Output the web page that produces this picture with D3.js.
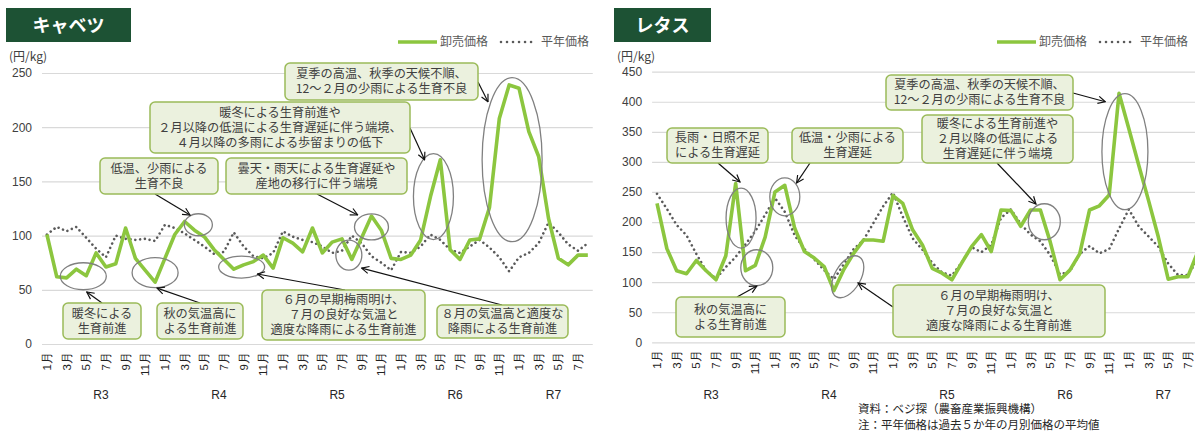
<!DOCTYPE html>
<html><head><meta charset="utf-8">
<script src="https://cdn.jsdelivr.net/npm/d3@7"></script>
<style>
body{margin:0;background:#fff;}
svg{display:block;font-family:"Noto Sans CJK JP","Noto Sans",sans-serif;}
</style></head><body>
<svg id="c" width="1195" height="432"></svg>
<script>
// ---------------- data ----------------
const years = ["R3","R4","R5","R6","R7"];
const monthNames = ["1月","2月","3月","4月","5月","6月","7月","8月","9月","10月","11月","12月"];
const lastYearMonths = 8; // R7 runs to 8月

const cabbageWholesale = [
  101,62,61,69,63,84,71,74,107,79,68,57,
  79,101,113,105,99,87,78,69,73,76,82,70,
  98,93,85,107,84,94,97,78,98,118,105,79,
  78,82,96,136,170,87,78,96,97,126,208,239,
  236,196,173,116,79,73,82,82
];
const cabbageNormal = [
  101,108,104,108,98,88,80,100,97,96,97,95,
  110,107,102,96,90,83,85,103,90,81,79,84,
  104,99,96,94,90,84,86,100,93,81,75,68,
  85,84,90,101,96,87,84,90,96,89,80,67,
  80,84,93,112,103,92,86,93
];
const lettuceWholesale = [
  231,156,119,114,136,119,104,144,264,119,128,175,
  250,261,190,151,140,126,86,121,148,170,170,168,
  244,231,187,162,123,115,104,132,159,179,151,220,
  219,193,220,220,167,104,120,147,220,227,245,414,
  355,295,236,175,105,109,109,150
];
const lettuceNormal = [
  247,222,195,178,147,119,106,125,142,163,185,212,
  240,217,178,155,138,120,105,130,155,170,198,226,
  249,209,173,154,132,116,111,133,158,150,162,207,
  221,197,179,168,145,113,118,147,160,148,155,189,
  221,193,176,159,131,112,112,137
];
const cabbageTicks = [0,50,100,150,200,250];
const lettuceTicks = [0,50,100,150,200,250,300,350,400,450];
const seriesNames = ["卸売価格","平年価格"];
const unitLabel = "(円/kg)";

// period list built from the label arrays
const periods = [];
years.forEach((yr, yi) => {
  const n = yi === years.length - 1 ? lastYearMonths : 12;
  for (let m = 0; m < n; m++) periods.push({year: yr, month: monthNames[m], m: m + 1, idx: periods.length});
});

// ---------------- drawing ----------------
const svg = d3.select("#c");
const GREEN = "#8cc63f";
const DOT = "#5a5a5a";
const FILL_BOX = "#ebf1de";
const STROKE_BOX = "#9bbb59";

const defs = svg.append("defs");
defs.append("marker").attr("id","arr").attr("viewBox","0 0 10 10")
  .attr("refX",9).attr("refY",5).attr("markerWidth",9).attr("markerHeight",9)
  .attr("orient","auto-start-reverse").attr("markerUnits","userSpaceOnUse")
  .append("path").attr("d","M1,1 L9,5 L1,9").attr("fill","none").attr("stroke","#111").attr("stroke-width",1.3);

function panel(cfg) {
  const g = svg.append("g");
  const x = d3.scaleBand().domain(periods.map(p => p.idx)).range([cfg.left, cfg.left + cfg.step * periods.length]).padding(0);
  const y = d3.scaleLinear().domain([0, cfg.ticks[cfg.ticks.length - 1]]).range([cfg.bottom, cfg.top]);
  const cx = i => x(i) + x.bandwidth() / 2;
  // continuous position along the month axis (for annotation placement between months)
  const xc = d3.scaleLinear().domain([0, periods.length]).range(x.range());
  const P = (i, v) => [xc(i + 0.5), y(v)];

  // title box
  g.append("rect").attr("x", cfg.titleBox[0]).attr("y", 8).attr("width", cfg.titleBox[1]).attr("height", 34)
    .attr("fill", "#1d5234");
  g.append("text").attr("x", cfg.titleBox[0] + cfg.titleBox[1] / 2).attr("y", 26).attr("dy","0.35em")
    .attr("text-anchor","middle").attr("fill","#fff").attr("font-size",18).attr("font-weight",700)
    .text(cfg.title);

  // legend
  const lx = cfg.legendX;
  g.append("line").attr("x1", lx).attr("x2", lx + 39).attr("y1", 42).attr("y2", 42)
    .attr("stroke", GREEN).attr("stroke-width", 3.5);
  g.append("text").attr("x", lx + 42).attr("y", 42).attr("dy","0.35em").attr("font-size",12).attr("fill","#595959").text(seriesNames[0]);
  g.append("line").attr("x1", lx + 103).attr("x2", lx + 138).attr("y1", 42).attr("y2", 42)
    .attr("stroke", DOT).attr("stroke-width", 2.6).attr("stroke-linecap","round").attr("stroke-dasharray","0.01 6");
  g.append("text").attr("x", lx + 143).attr("y", 42).attr("dy","0.35em").attr("font-size",12).attr("fill","#595959").text(seriesNames[1]);

  // unit
  g.append("text").attr("x", cfg.unitX).attr("y", 57).attr("dy","0.35em").attr("font-size",12).attr("fill","#404040").text(unitLabel);

  // y axis with gridlines
  const ya = g.append("g").attr("transform", `translate(${cfg.left},0)`)
    .call(d3.axisLeft(y).tickValues(cfg.ticks).tickSize(-(cfg.step * periods.length)).tickPadding(10));
  ya.select(".domain").remove();
  ya.selectAll(".tick line").attr("stroke", "#d9d9d9").attr("stroke-width", 1.2);
  ya.selectAll(".tick text").attr("fill","#404040").attr("font-size",12).attr("font-family","Liberation Sans, sans-serif");

  // x axis
  const xa = g.append("g").attr("transform", `translate(0,${cfg.bottom})`)
    .call(d3.axisBottom(x).tickValues(periods.filter(p => p.m % 2 === 1).map(p => p.idx))
      .tickFormat(i => periods[i].month).tickSize(0));
  xa.select(".domain").remove();
  xa.selectAll(".tick text").attr("transform","rotate(-90)").attr("x",-8).attr("y",0).attr("dy","0.35em")
    .style("text-anchor","end").attr("font-size",11.5).attr("fill","#222");

  // year labels
  years.forEach(yr => {
    const idxs = periods.filter(p => p.year === yr).map(p => p.idx);
    const mid = (cx(idxs[0]) + cx(idxs[idxs.length - 1])) / 2;
    g.append("text").attr("x", mid).attr("y", 395).attr("text-anchor","middle").attr("dy","0.35em")
      .attr("font-size",12).attr("fill","#262626").attr("font-family","Liberation Sans, sans-serif").text(yr);
  });

  // lines
  const line = d3.line().x((d, i) => cx(i)).y(d => y(d));
  g.append("path").datum(cfg.normal).attr("d", line).attr("fill","none")
    .attr("stroke", DOT).attr("stroke-width", 2.6).attr("stroke-linecap","round").attr("stroke-dasharray","0.01 4.8");
  g.append("path").datum(cfg.wholesale).attr("d", line).attr("fill","none")
    .attr("stroke", GREEN).attr("stroke-width", 3.6).attr("stroke-linejoin","round");

  // annotations
  cfg.notes.forEach(n => {
    const [ex, ey] = P(n.at[0], n.at[1]);
    g.append("ellipse").attr("cx", ex).attr("cy", ey).attr("rx", n.r[0]).attr("ry", n.r[1])
      .attr("transform", n.rot ? `rotate(${n.rot},${ex},${ey})` : null)
      .attr("fill","none").attr("stroke","#808080").attr("stroke-width",1.3);
    const [tx, ty] = P(n.tip[0], n.tip[1]);
    g.append("line").attr("x1", n.from[0]).attr("y1", n.from[1]).attr("x2", tx).attr("y2", ty)
      .attr("stroke","#111").attr("stroke-width",1.2).attr("marker-end","url(#arr)");
  });
  cfg.notes.forEach(n => {
    const [bx, by, bw, bh] = n.box;
    g.append("rect").attr("x", bx).attr("y", by).attr("width", bw).attr("height", bh).attr("rx", 5)
      .attr("fill", FILL_BOX).attr("stroke", STROKE_BOX).attr("stroke-width", 1.5);
    const lh = 15;
    const t = g.append("text").attr("text-anchor","middle").attr("font-size",12.2).attr("fill","#404040");
    n.text.forEach((s, k) => {
      t.append("tspan").attr("x", bx + bw / 2)
        .attr("y", by + bh / 2 + (k - (n.text.length - 1) / 2) * lh).attr("dy","0.36em").text(s);
    });
  });
}

panel({
  title: "キャベツ", titleBox: [6, 125], legendX: 398, unitX: 9,
  left: 42, step: 9.835, top: 73, bottom: 344,
  ticks: cabbageTicks, wholesale: cabbageWholesale, normal: cabbageNormal,
  notes: [
    {at:[3.7,62.5], r:[23,13.5], tip:[4.05,48], from:[102,303], box:[63,303,78,36], text:["暖冬による","生育前進"]},
    {at:[11,65.8], r:[23,15], tip:[11.2,51.5], from:[200,303], box:[157,303,86,36], text:["秋の気温高に","よる生育前進"]},
    {at:[15.4,110], r:[14,11], tip:[14.55,119], from:[155,194], box:[100,158,118,36], text:["低温、少雨による","生育不良"]},
    {at:[39.3,136], r:[20,43], tip:[38.4,170], from:[410,128], box:[150,102,260,51], text:["暖冬による生育前進や","２月以降の低温による生育遅延に伴う端境、","４月以降の多雨による歩留まりの低下"]},
    {at:[33,108], r:[17,13], tip:[31.6,119], from:[317,194], box:[226,158,181,36], text:["曇天・雨天による生育遅延や","産地の移行に伴う端境"]},
    {at:[47.3,170], r:[30,82], tip:[44.85,223.5], from:[478,82], box:[285,63,193,37], text:["夏季の高温、秋季の天候不順、","12～２月の少雨による生育不良"]},
    {at:[19.8,71], r:[23,11], tip:[21.4,64.6], from:[345,290], box:[262,290,163,50], text:["６月の早期梅雨明け、","７月の良好な気温と","適度な降雨による生育前進"]},
    {at:[30.7,82], r:[13,15], tip:[32,70], from:[502,305], box:[437,305,131,33], text:["８月の気温高と適度な","降雨による生育前進"]}
  ]
});

panel({
  title: "レタス", titleBox: [614, 97], legendX: 997, unitX: 617,
  left: 652.1, step: 9.83, top: 71.7, bottom: 342.3,
  ticks: lettuceTicks, wholesale: lettuceWholesale, normal: lettuceNormal,
  notes: [
    {at:[8.55,206.6], r:[15,30], tip:[8.44,266.6], from:[718,163], box:[667,128,101,35], text:["長雨・日照不足","による生育遅延"]},
    {at:[10.15,124], r:[16,18], tip:[10.15,93.6], from:[737,297], box:[676,297,109,40], text:["秋の気温高に","よる生育前進"]},
    {at:[13,242], r:[15,19], tip:[14.2,265], from:[810,163], box:[792,128,111,35], text:["低温・少雨による","生育遅延"]},
    {at:[47.6,317], r:[23,58], tip:[45.6,400], from:[1073,93], box:[886,75,187,35], text:["夏季の高温、秋季の天候不順、","12～２月の少雨による生育不良"]},
    {at:[39.4,200.5], r:[16,18], tip:[38.55,230], from:[997,163], box:[922,115,151,48], text:["暖冬による生育前進や","２月以降の低温による","生育遅延に伴う端境"]},
    {at:[19.4,109], r:[13,23], rot:30, tip:[20.45,98.6], from:[893,307], box:[893,285,212,52], text:["６月の早期梅雨明け、","７月の良好な気温と","適度な降雨による生育前進"]}
  ]
});

// source notes
svg.append("text").attr("x",858).attr("y",409).attr("dy","0.35em").attr("font-size",11.5).attr("fill","#262626").text("資料：ベジ探（農畜産業振興機構）");
svg.append("text").attr("x",858).attr("y",425).attr("dy","0.35em").attr("font-size",11.5).attr("fill","#262626").text("注：平年価格は過去５か年の月別価格の平均値");
</script>
</body></html>
